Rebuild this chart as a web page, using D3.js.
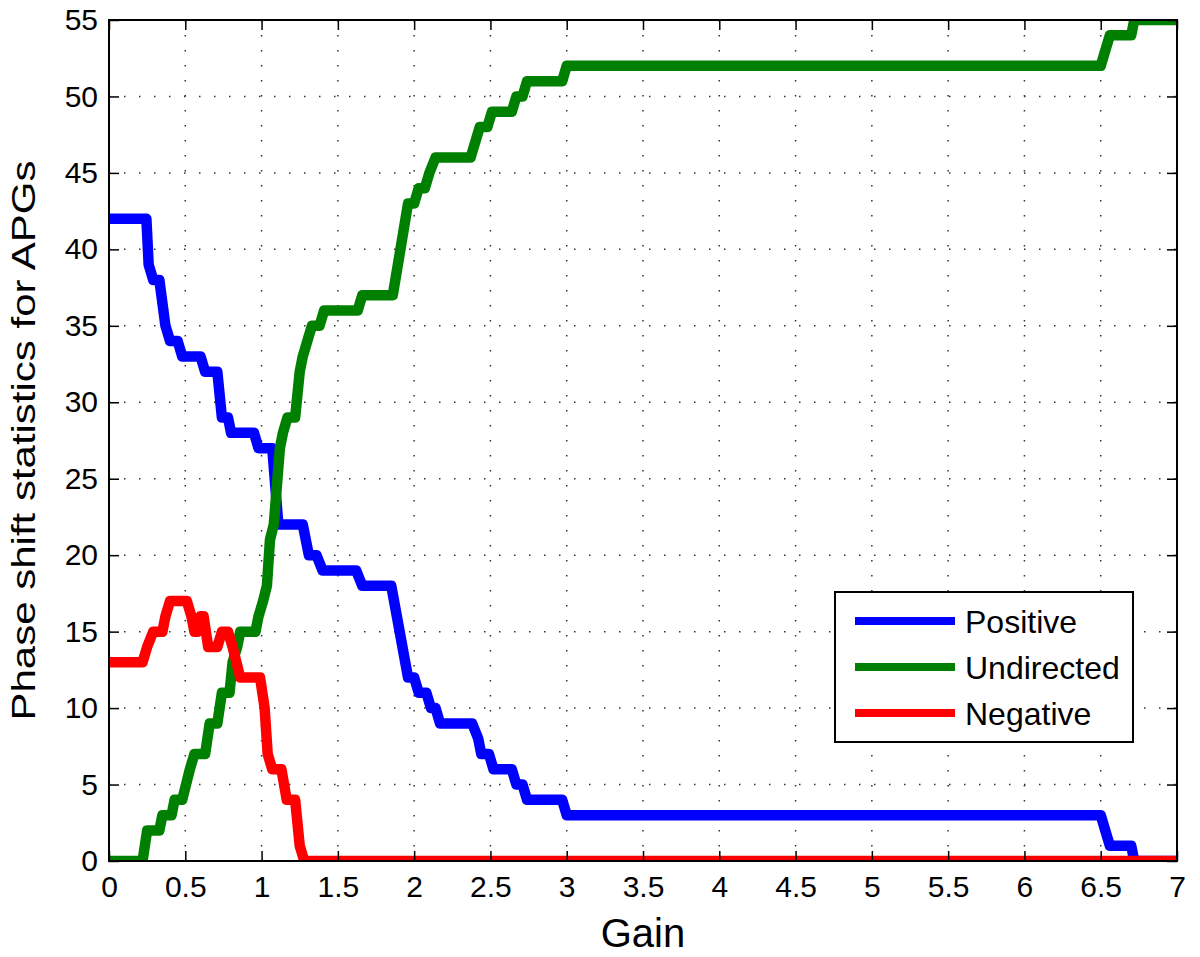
<!DOCTYPE html>
<html>
<head>
<meta charset="utf-8">
<script src="https://cdn.jsdelivr.net/npm/d3@7"></script>
<style>
  body { margin: 0; background: #fff; }
  svg { font-family: "Liberation Sans", Arial, sans-serif; }
</style>
</head>
<body>
<div id="drawArea"></div>
<script>
// gain / count pairs
const positive = [[0,42],[0.245,42],[0.26,39],[0.29,38],[0.33,38],[0.37,35],[0.40,34],[0.45,34],[0.48,33],[0.60,33],
  [0.63,32],[0.71,32],[0.74,29],[0.78,29],[0.80,28],[0.95,28],[0.98,27],[1.07,27],[1.11,22],[1.27,22],[1.31,20],
  [1.36,20],[1.40,19],[1.62,19],[1.66,18],[1.85,18],[1.96,12],[2.00,12],[2.03,11],[2.08,11],[2.11,10],[2.14,10],
  [2.17,9],[2.38,9],[2.42,8],[2.44,7],[2.49,7],[2.52,6],[2.64,6],[2.67,5],[2.71,5],[2.74,4],[2.97,4],[3.00,3],
  [6.50,3],[6.53,2],[6.56,1],[6.70,1],[6.72,0],[7,0]];

const undirected = [[0,0],[0.22,0],[0.25,2],[0.33,2],[0.35,3],[0.41,3],[0.43,4],[0.48,4],[0.53,6],[0.56,7],[0.63,7],
  [0.66,9],[0.71,9],[0.74,11],[0.79,11],[0.81,13],[0.84,14],[0.86,15],[0.96,15],[0.98,16],[1.01,17],[1.035,18],
  [1.055,21],[1.08,22],[1.12,27],[1.14,28],[1.17,29],[1.22,29],[1.25,32],[1.27,33],[1.30,34],[1.33,35],[1.38,35],
  [1.41,36],[1.63,36],[1.66,37],[1.86,37],[1.96,43],[2.00,43],[2.03,44],[2.07,44],[2.10,45],[2.14,46],[2.37,46],
  [2.40,47],[2.43,48],[2.48,48],[2.51,49],[2.64,49],[2.67,50],[2.71,50],[2.74,51],[2.97,51],[3.00,52],[6.50,52],
  [6.53,53],[6.56,54],[6.70,54],[6.72,55],[7,55]];

const negative = [[0,13],[0.22,13],[0.25,14],[0.29,15],[0.35,15],[0.37,16],[0.40,17],[0.51,17],[0.54,16],[0.56,15],
  [0.58,15],[0.60,16],[0.62,16],[0.65,14],[0.71,14],[0.74,15],[0.78,15],[0.81,14],[0.86,12],[0.99,12],[1.02,10],
  [1.04,7],[1.07,6],[1.13,6],[1.165,4],[1.22,4],[1.25,1],[1.28,0],[7,0]];

const seriesNames = ['Positive', 'Undirected', 'Negative'];
const seriesColors = ['#0000ff', '#008000', '#ff0000'];
const xTicks = d3.range(0, 7.01, 0.5);
const yTicks = d3.range(0, 56, 5);

const margin = {top: 20, right: 23, bottom: 96, left: 109};
const width = 1200 - margin.left - margin.right;
const height = 957 - margin.top - margin.bottom;

const svg = d3.select('#drawArea').append('svg')
  .attr('width', 1200)
  .attr('height', 957);

const g = svg.append('g')
  .attr('transform', `translate(${margin.left}, ${margin.top})`);

const x = d3.scaleLinear().domain([0, 7]).range([0, width]);
const y = d3.scaleLinear().domain([0, 55]).range([height, 0]);

// dotted grid
g.append('g').selectAll('line')
  .data(xTicks.slice(1, -1))
  .join('line')
  .attr('x1', d => x(d)).attr('x2', d => x(d))
  .attr('y1', 0).attr('y2', height)
  .attr('stroke', '#333').attr('stroke-width', 1.5)
  .attr('stroke-dasharray', '1.5,13.5');

g.append('g').selectAll('line')
  .data(yTicks.slice(1, -1))
  .join('line')
  .attr('y1', d => y(d)).attr('y2', d => y(d))
  .attr('x1', 0).attr('x2', width)
  .attr('stroke', '#333').attr('stroke-width', 1.5)
  .attr('stroke-dasharray', '1.5,13.5');

// curves
svg.append('defs').append('clipPath').attr('id', 'plotClip')
  .append('rect').attr('width', width).attr('height', height);

const line = d3.line().x(d => x(d[0])).y(d => y(d[1]));

g.append('g').attr('clip-path', 'url(#plotClip)')
  .selectAll('path')
  .data([positive, undirected, negative])
  .join('path')
  .attr('d', line)
  .attr('fill', 'none')
  .attr('stroke', (d, i) => seriesColors[i])
  .attr('stroke-width', 10.5)
  .attr('stroke-linejoin', 'round');

// axes, ticks inward on all four sides
const tickSize = 10;
const bottomAxis = g.append('g')
  .attr('transform', `translate(0, ${height})`)
  .call(d3.axisBottom(x).tickValues(xTicks).tickSize(-tickSize).tickPadding(15).tickFormat(d3.format('')));
const leftAxis = g.append('g')
  .call(d3.axisLeft(y).tickValues(yTicks).tickSize(-tickSize).tickPadding(11));
g.append('g')
  .call(d3.axisTop(x).tickValues(xTicks).tickSize(-tickSize).tickFormat(''));
g.append('g')
  .attr('transform', `translate(${width}, 0)`)
  .call(d3.axisRight(y).tickValues(yTicks).tickSize(-tickSize).tickFormat(''));

g.selectAll('.domain').remove();
g.selectAll('.tick line').attr('stroke', '#000').attr('stroke-width', 1.5);
g.selectAll('.tick text').attr('fill', '#000').attr('font-size', 30)
  .attr('font-family', '"Liberation Sans", Arial, sans-serif');
bottomAxis.selectAll('.tick text').attr('dy', '0.71em');

g.append('rect')
  .attr('width', width).attr('height', height)
  .attr('fill', 'none').attr('stroke', '#000').attr('stroke-width', 2);

// axis titles
svg.append('text')
  .attr('x', margin.left + width / 2).attr('y', 947)
  .attr('text-anchor', 'middle')
  .attr('font-size', 40)
  .text('Gain');

svg.append('text')
  .attr('transform', `translate(35, ${margin.top + height / 2}) rotate(-90) scale(1, 0.8)`)
  .attr('text-anchor', 'middle')
  .attr('font-size', 42)
  .text('Phase shift statistics for APGs');

// legend
const legend = svg.append('g').attr('transform', 'translate(835, 592)');
legend.append('rect')
  .attr('width', 298).attr('height', 150)
  .attr('fill', '#fff').attr('stroke', '#000').attr('stroke-width', 2);

const item = legend.selectAll('.item')
  .data(seriesNames)
  .join('g')
  .attr('class', 'item')
  .attr('transform', (d, i) => `translate(0, ${29 + i * 46})`);

item.append('line')
  .attr('x1', 20).attr('x2', 120)
  .attr('stroke', (d, i) => seriesColors[i])
  .attr('stroke-width', 8);

item.append('text')
  .attr('x', 130).attr('y', 12)
  .attr('font-size', 32)
  .text(d => d);
</script>
</body>
</html>
